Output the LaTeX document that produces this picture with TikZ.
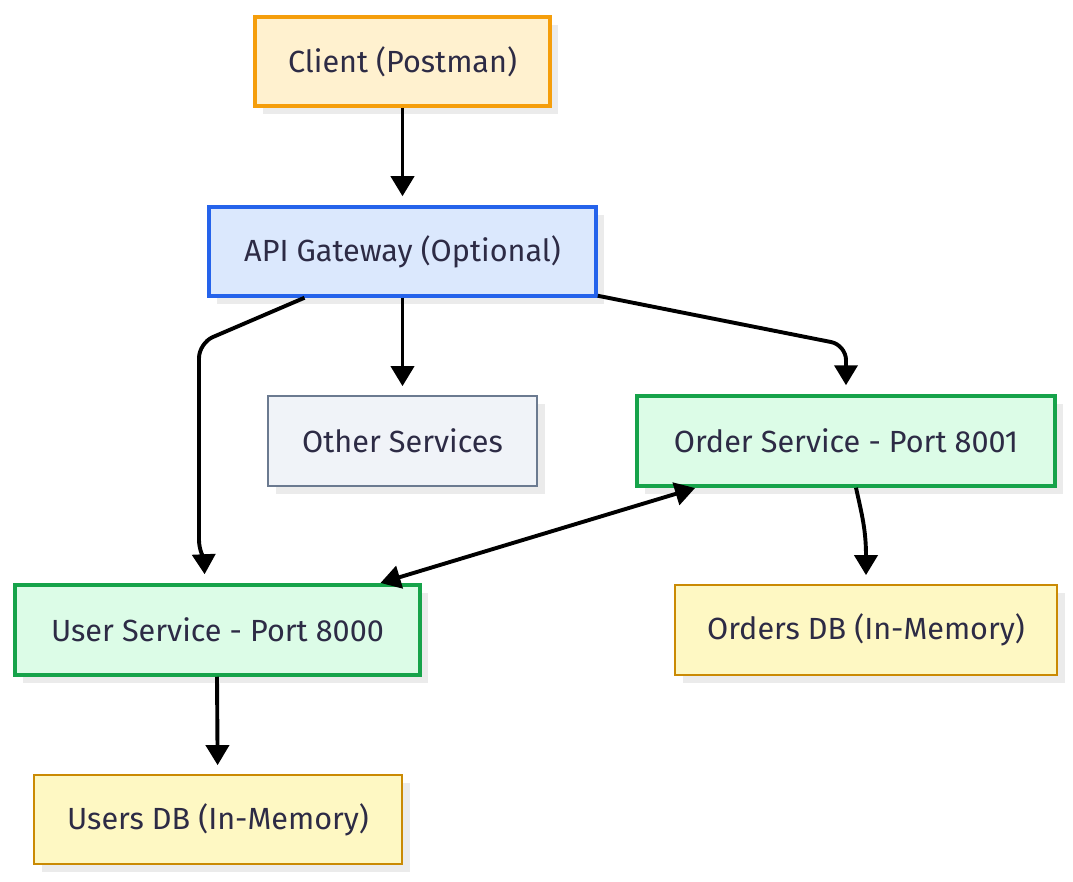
\documentclass[tikz,border=0pt]{standalone}
\usepackage{fontspec}
\setmainfont{Fira Sans}
\usetikzlibrary{arrows.meta,shadows,calc}
\definecolor{txt}{HTML}{2D2B45}
\definecolor{shd}{HTML}{EBEBEB}
\definecolor{orF}{HTML}{FFF1CF}\definecolor{orD}{HTML}{F59E0B}
\definecolor{blF}{HTML}{DBE8FD}\definecolor{blD}{HTML}{2563EB}
\definecolor{grF}{HTML}{F0F3F8}\definecolor{grD}{HTML}{6B7A90}
\definecolor{gnF}{HTML}{DCFCE7}\definecolor{gnD}{HTML}{16A34A}
\definecolor{yeF}{HTML}{FEF8C3}\definecolor{yeD}{HTML}{CA8A04}
\tikzset{
  box/.style={rectangle, minimum height=89pt, text=txt, font=\fontsize{30.6}{34}\selectfont,
    drop shadow={shadow xshift=8pt, shadow yshift=-8pt, fill=shd, opacity=1}},
  thick box/.style={box, line width=3.5pt},
  thin box/.style={box, line width=1.7pt},
  arr/.style={line width=3.9pt, -{Triangle[width=23pt,length=20pt]}, shorten >=9pt},
}
\begin{document}
\begin{tikzpicture}[x=1pt,y=-1pt]
\fill[white] (0,0) rectangle (1073,882);
\useasboundingbox (0,0) rectangle (1073,882);
\node[thick box, fill=orF, draw=orD, minimum width=295pt] (client) at (402.5,61.5) {Client (Postman)};
\node[thick box, fill=blF, draw=blD, minimum width=387pt] (api) at (402.5,251.5) {API Gateway (Optional)};
\node[thin box, fill=grF, draw=grD, minimum width=269pt, minimum height=90pt] (other) at (402.5,441) {Other Services};
\node[thick box, fill=gnF, draw=gnD, minimum width=418pt, minimum height=90pt] (order) at (846,441) {Order Service - Port 8001};
\node[thick box, fill=gnF, draw=gnD, minimum width=405pt, minimum height=90pt] (user) at (217.5,630) {User Service - Port 8000};
\node[thin box, fill=yeF, draw=yeD, minimum width=382pt, minimum height=90pt] (odb) at (866,630) {Orders DB (In-Memory)};
\node[thin box, fill=yeF, draw=yeD, minimum width=368pt] (udb) at (218,819.5) {Users DB (In-Memory)};

\draw[arr] (client) -- (api);
\draw[arr] (api) -- (other);
\draw[arr, rounded corners=15pt] ([xshift=-98pt]api.south) -- (199,343) -- (199,525)
  .. controls (199,550) and (204,560) .. ([xshift=-12.5pt]user.north);
\draw[arr, rounded corners=15pt] ([yshift=2pt]api.south east) -- (846,345) -- (order.north);
\draw[line width=3.9pt, {Triangle[width=23pt,length=20pt]}-{Triangle[width=23pt,length=20pt]}, shorten >=1pt, shorten <=1pt]
  ([xshift=162pt]user.north) -- ([xshift=-150pt]order.south);
\draw[arr] ([xshift=10pt]order.south) .. controls (862,515) and (866,530) .. (odb.north);
\draw[arr] ([xshift=-0.5pt]user.south) -- (udb);
\end{tikzpicture}
\end{document}
